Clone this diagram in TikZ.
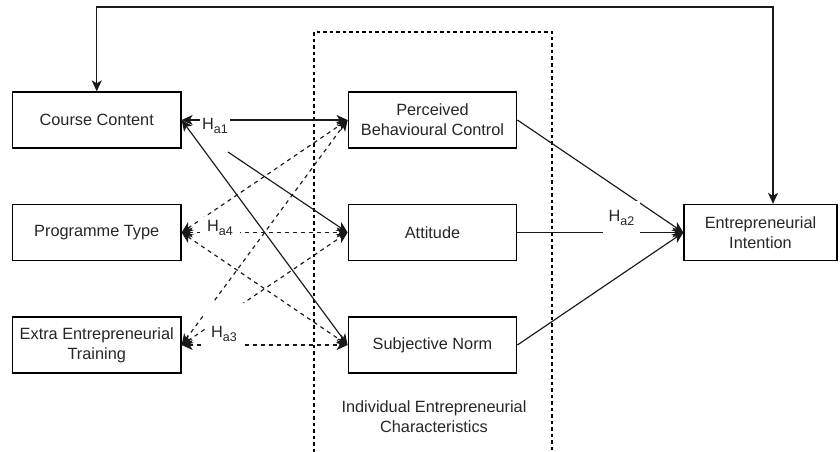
\documentclass[tikz,border=0pt]{standalone}
\usepackage{fontspec}
\setmainfont{Liberation Sans}
\usetikzlibrary{arrows.meta,calc}
\begin{document}
\begin{tikzpicture}[x=1pt,y=-1pt,
  box/.style={draw=black,line width=1.3pt,minimum width=168.5pt,minimum height=56pt,inner sep=0pt,align=center,
    font=\fontsize{16.3}{20}\selectfont,text=black!85},
  conn/.style={line width=1.15pt,draw=black!90,-{Stealth[length=11pt,width=10pt,inset=3pt]}},
  bic/.style={line width=1.15pt,draw=black!90,{Stealth[length=11pt,width=10pt,inset=3pt]}-{Stealth[length=11pt,width=10pt,inset=3pt]}},
  dsh/.style={dash pattern=on 4pt off 4pt},
  hlbl/.style={fill=white,inner sep=0pt,font=\fontsize{16.3}{20}\selectfont,text=black!85},
  grp/.style={line width=1.1pt,draw=black,dash pattern=on 3.5pt off 3pt}]
\useasboundingbox (0,0) rectangle (840,452);
% group frame (runs off the bottom of the picture)
\coordinate (gl) at (314,452);
\coordinate (gtl) at (314,32);
\coordinate (gtr) at (552,32);
\coordinate (gr) at (552,452);
\draw[grp] (gl) -- (gtl) -- (gtr) -- (gr);
\node[font=\fontsize{16.3}{20}\selectfont,text=black!85,align=center] (iec) at (434,417) {Individual Entrepreneurial\\Characteristics};
% nodes
\node[box] (cc)  at (96.75,120)  {Course Content};
\node[box] (pt)  at (96.75,232.5) {Programme Type};
\node[box] (et)  at (96.75,345)  {Extra Entrepreneurial\\Training};
\node[box] (pbc) at (432.5,120)  {Perceived\\Behavioural Control};
\node[box] (att) at (432.5,232.5) {Attitude};
\node[box] (sn)  at (432.5,345)  {Subjective Norm};
\node[box,minimum width=153pt] (ei) at (760.5,232.5) {Entrepreneurial\\Intention};
% feedback loop
\coordinate (topr) at (773,7);
\draw[bic] (cc.north) |- (topr) -- ([xshift=12.5pt]ei.north);
% course content
\draw[bic] (cc.east) -- (pbc.west);
\coordinate (ha1end) at (228,152);
\draw[conn] (ha1end) -- (att.west);
\draw[bic] (cc.east) -- (sn.west);
% programme type
\draw[bic,dsh] (pt.east) -- (pbc.west);
\draw[bic,dsh] (pt.east) -- (att.west);
\draw[bic,dsh] (pt.east) -- (sn.west);
% extra training
\draw[bic,dsh] (et.east) -- (pbc.west);
\draw[bic,dsh] (et.east) -- (att.west);
\draw[bic,dsh] (et.east) -- (sn.west);
% to intention
\draw[conn] (pbc.east) -- (ei.west);
\draw[conn] (att.east) -- (ei.west);
\draw[conn] (sn.east) -- (ei.west);
% labels
\def\hs#1{H\raisebox{-4pt}{\fontsize{12.5}{13}\selectfont #1}}
\node[hlbl,minimum width=30pt,text height=16pt,text depth=14pt] (ha1) at (215,128) {\hs{a1}};
\node[hlbl,minimum width=40pt,text height=14pt,text depth=14pt] (ha4) at (220,231) {\hs{a4}};
\node[hlbl,minimum width=39pt,text height=34pt,text depth=14pt] (ha3) at (224,327) {\hs{a3}};
\node[hlbl,minimum width=37pt,text height=21pt,text depth=20pt] (ha2) at (621.5,221) {\hs{a2}};
\end{tikzpicture}
\end{document}
